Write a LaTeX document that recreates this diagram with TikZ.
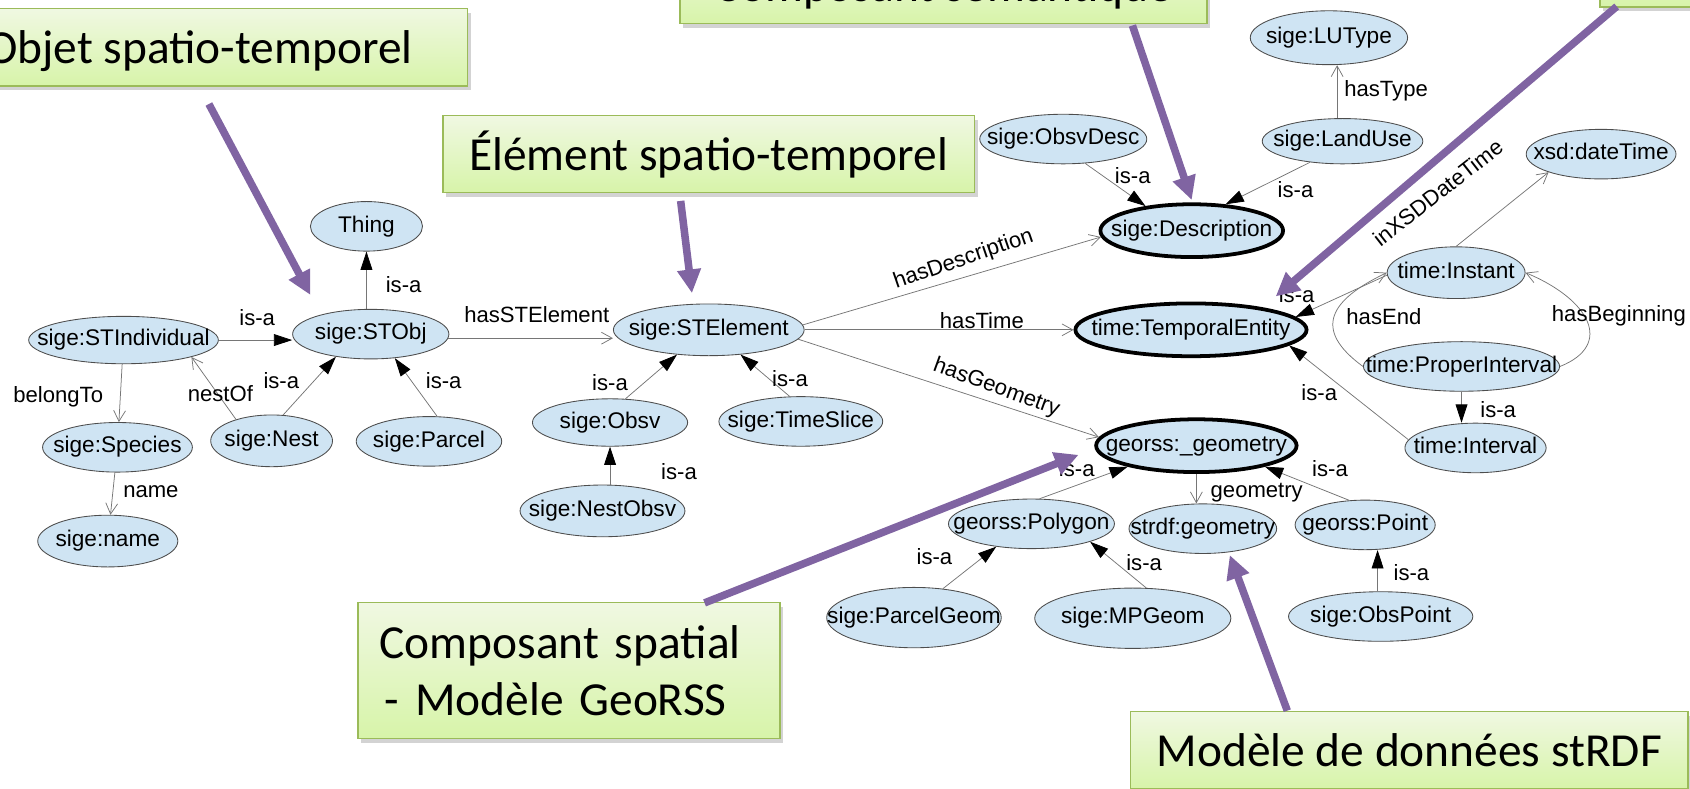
\documentclass[tikz,border=0pt]{standalone}
\usepackage{fontspec}
\setmainfont{Liberation Sans}
\newfontfamily\notefont{Carlito}
\usetikzlibrary{arrows.meta,positioning,shapes.geometric,shadows}
\definecolor{conceptfill}{HTML}{CFE4F3}
\definecolor{conceptline}{HTML}{4D4D4D}
\definecolor{edgegray}{HTML}{767676}
\definecolor{noteline}{HTML}{9BBB59}
\definecolor{notetop}{HTML}{F0F8E2}
\definecolor{notebottom}{HTML}{D7F4A9}
\definecolor{pointerpurple}{HTML}{8064A2}
\newcommand{\ctxt}[1]{\makebox[0pt]{#1}}
\tikzset{
  concept/.style={
    ellipse, draw=conceptline, fill=conceptfill, line width=0.8pt,
    minimum width=#1, minimum height=46pt, inner sep=0pt,
    text height=15pt, text depth=4.5pt,
    font=\fontsize{21}{25}\selectfont
  },
  concept/.default=140pt,
  keyconcept/.style={
    concept=#1, draw=black, line width=3.5pt, minimum height=49pt
  },
  isa/.style={
    draw=edgegray, line width=0.7pt,
    -{Triangle[length=17pt, width=11pt, color=black]}
  },
  prop/.style={
    draw=edgegray, line width=0.7pt,
    -{Straight Barb[length=10pt, width=11pt]}
  },
  edgelabel/.style={
    font=\fontsize{20.5}{24}\selectfont, inner sep=0pt
  },
  notebox/.style={
    rectangle, draw=noteline, line width=1.3pt,
    top color=notetop, bottom color=notebottom,
    drop shadow={opacity=0.35, shadow xshift=3pt, shadow yshift=-4pt},
    font=\notefont\fontsize{44}{52.6}\selectfont,
    text height=34pt, text depth=4pt, inner sep=0pt
  },
  pointer/.style={
    draw=pointerpurple, line width=7pt,
    -{Triangle[length=22pt, width=21pt]}
  },
}

\begin{document}
\begin{tikzpicture}[x=1pt, y=-1pt]
  \useasboundingbox (0,0) rectangle (1568,732);
  \clip (0,0) rectangle (1568,732);

  % spatio-temporal objects
  \node[concept=104pt] (thing) at (340,210) {\ctxt{Thing}};
  \node[concept=176pt, minimum height=44pt] (stind) at (114.6,315.5) {\ctxt{sige:STIndividual}};
  \node[concept=145pt] (stobj) at (344,310) {\ctxt{sige:STObj}};
  \node[concept=139pt] (species) at (109,415) {\ctxt{sige:Species}};
  \node[concept=113pt, minimum height=48pt] (nest) at (252,409) {\ctxt{sige:Nest}};
  \node[concept=135pt] (parcel) at (398,409.5) {\ctxt{sige:Parcel}};
  \node[concept=130pt, minimum height=48pt] (sname) at (100,502) {\ctxt{sige:name}};

  % spatio-temporal elements
  \node[concept=177pt, minimum height=48pt] (stelem) at (657.6,306) {\ctxt{sige:STElement}};
  \node[concept=144pt, minimum height=44pt] (obsv) at (566,392) {\ctxt{sige:Obsv}};
  \node[concept=152pt] (timeslice) at (743,391) {\ctxt{sige:TimeSlice}};
  \node[concept=153pt, minimum height=48pt] (nestobsv) at (559,474) {\ctxt{sige:NestObsv}};

  % semantic part
  \node[concept=155pt] (obsvdesc) at (986.5,129) {\ctxt{sige:ObsvDesc}};
  \node[concept=146pt, minimum height=50pt] (lutype) at (1233,35) {\ctxt{sige:LUType}};
  \node[concept=149pt, minimum height=42pt] (landuse) at (1245.6,131) {\ctxt{sige:LandUse}};
  \node[keyconcept=169.5pt] (descr) at (1105.7,214) {\ctxt{sige:Description}};

  % temporal part
  \node[concept=139pt] (datetime) at (1485.5,143) {\ctxt{xsd:dateTime}};
  \node[concept=128pt, minimum height=48pt] (instant) at (1351,253) {\ctxt{time:Instant}};
  \node[keyconcept=214.5pt] (tempent) at (1105,306) {\ctxt{time:TemporalEntity}};
  \node[concept=182pt] (properint) at (1356,340) {\ctxt{time:ProperInterval}};
  \node[concept=131pt] (interval) at (1369,415.6) {\ctxt{time:Interval}};

  % spatial part
  \node[keyconcept=186pt] (geom) at (1110,413.5) {\ctxt{georss:\_geometry}};
  \node[concept=154pt] (polygon) at (957,486) {\ctxt{georss:Polygon}};
  \node[concept=137pt] (strdfgeom) at (1116,490.5) {\ctxt{strdf:geometry}};
  \node[concept=130pt] (point) at (1266.6,487) {\ctxt{georss:Point}};
  \node[concept=162pt, minimum height=56pt] (parcelgeom) at (848,573) {\ctxt{sige:ParcelGeom}};
  \node[concept=182pt, minimum height=56pt] (mpgeom) at (1051,573.6) {\ctxt{sige:MPGeom}};
  \node[concept=171pt] (obspoint) at (1281,572) {\ctxt{sige:ObsPoint}};

  % links around sige:STObj
  \draw[isa] (stobj.north -| thing.south) -- (thing.south);
  \node[edgelabel] (isa-thing) at (374.5,263.7) {is-a};
  \draw[isa] (stind.east) -- (stind.east -| stobj.west);
  \node[edgelabel] (isa-stind) at (238.6,294.6) {is-a};
  \draw[prop] (stind) -- (species);
  \node[edgelabel] (lbl-belong) at (54,368) {belongTo};
  \draw[prop] (species) -- (sname);
  \node[edgelabel] (lbl-name) at (140,456) {name};
  \draw[prop] (nest.149) -- (stind.-14);
  \node[edgelabel] (lbl-nestof) at (204.5,365) {nestOf};
  \draw[isa] (nest.66) -- (stobj.213);
  \node[edgelabel] (isa-nest) at (261,353) {is-a};
  \draw[isa] (parcel.72) -- (stobj.-45);
  \node[edgelabel] (isa-parcel) at (411.7,353) {is-a};
  \draw[prop] (stobj.-3) -- (stobj.-3 -| stelem.west);
  \node[edgelabel] (lbl-haselem) at (498,291.5) {hasSTElement};

  % links around sige:STElement
  \draw[isa] (obsv.57) -- (stelem.218);
  \node[edgelabel] (isa-obsv) at (566,355) {is-a};
  \draw[isa] (timeslice.114) -- (stelem.-38);
  \node[edgelabel] (isa-timeslice) at (733,351) {is-a};
  \draw[isa] (nestobsv.north -| obsv.south) -- (obsv.south);
  \node[edgelabel] (isa-nestobsv) at (630,438) {is-a};
  \draw[prop] (stelem.3) -- (descr.184);
  \node[edgelabel, rotate=19] (lbl-hasdesc) at (894,241) {hasDescription};
  \draw[prop] (stelem.east) -- (tempent.west);
  \node[edgelabel] (lbl-hastime) at (911,297) {hasTime};
  \draw[prop] (stelem.-6) -- (geom.175);
  \node[edgelabel, rotate=-20] (lbl-hasgeom) at (924.4,360) {hasGeometry};

  % description
  \draw[isa] (obsvdesc.-48) -- (descr.152);
  \node[edgelabel] (isa-obsvdesc) at (1051,163) {is-a};
  \draw[isa] (landuse.213) -- (descr.38);
  \node[edgelabel] (isa-landuse) at (1202,176) {is-a};
  \draw[prop] ([xshift=-5pt]landuse.north) -- ([xshift=-5pt]landuse.north |- lutype.south);
  \node[edgelabel] (lbl-hastype) at (1286,84) {hasType};

  % time
  \draw[prop] (instant.north) -- (datetime.199);
  \node[edgelabel, rotate=38] (lbl-inxsd) at (1334,178.5) {inXSDDateTime};
  \draw[isa] (instant.182) -- (tempent.7);
  \node[edgelabel] (isa-instant) at (1203,273.5) {is-a};
  \draw[prop] (properint.west) .. controls +(-48,-35) and +(-52,25) .. (instant.west);
  \node[edgelabel] (lbl-hasend) at (1284,294) {hasEnd};
  \draw[prop] (properint.east) .. controls +(50,-20) and +(60,25) .. (instant.east);
  \node[edgelabel] (lbl-hasbegin) at (1502,293) {hasBeginning};
  \draw[isa] (properint.south) -- (properint.south |- interval.north);
  \node[edgelabel] (isa-properint) at (1390,380) {is-a};
  \draw[isa] (interval.173) -- (tempent.-9);
  \node[edgelabel] (isa-interval) at (1224,364) {is-a};

  % geometry
  \draw[prop] (geom.south) -- (geom.south |- strdfgeom.north);
  \node[edgelabel] (lbl-geometry) at (1166,457) {geometry};
  \draw[isa] (polygon.72) -- (geom.197);
  \node[edgelabel] (isa-polygon) at (999,435) {is-a};
  \draw[isa] (point.123) -- (geom.-17);
  \node[edgelabel] (isa-point) at (1234,434.5) {is-a};
  \draw[isa] (parcelgeom.45) -- (polygon.213);
  \node[edgelabel] (isa-parcelgeom) at (867,516) {is-a};
  \draw[isa] (mpgeom.66) -- (polygon.-17);
  \node[edgelabel] (isa-mpgeom) at (1061.5,522) {is-a};
  \draw[isa] (obspoint.97) -- (obspoint.97 |- point.south);
  \node[edgelabel] (isa-obspoint) at (1309.5,531) {is-a};

  % call-outs
  \node[notebox, minimum width=498pt, minimum height=72pt] (objet) at (185,43.75) {Objet spatio-temporel};
  \node[notebox, minimum width=493pt, minimum height=71.5pt] (element) at (657.5,143) {Élément spatio-temporel};
  \node[notebox, minimum width=489pt, minimum height=72pt] (semantique) at (875.5,-14) {Composant sémantique};
  \node[notebox, minimum width=200pt, minimum height=72pt, anchor=south west] (temporel) at (1484,7) {};
  \node[notebox, text height=, text depth=, text width=351.7pt, align=left, inner xsep=20pt,
        minimum height=126pt] (spatial) at (527.9,622) {Composant spatial\\\hspace*{5pt}- Modèle GeoRSS};
  \node[notebox, minimum width=517pt, minimum height=72pt] (strdf) at (1307.5,696) {Modèle de données stRDF};

  \coordinate (objet-tip) at (288,273.7);
  \coordinate (element-tip) at (642,272);
  \coordinate (semantique-tip) at (1105.7,185.6);
  \coordinate (temporel-tip) at (1183.6,275);
  \coordinate (spatial-tip) at (1000.7,422);
  \coordinate (strdf-tip) at (1141,515);
  \draw[pointer] ([shift={(8.8,16.1)}]objet.south) -- (objet-tip);
  \draw[pointer] ([shift={(-26,7)}]element.south) -- (element-tip);
  \draw[pointer] ([shift={(-70,1)}]semantique.south east) -- (semantique-tip);
  \draw[pointer] ([shift={(16,-1)}]temporel.south west) -- (temporel-tip);
  \draw[pointer] ([shift={(-70.7,1)}]spatial.north east) -- (spatial-tip);
  \draw[pointer] ([shift={(146,0)}]strdf.north west) -- (strdf-tip);
\end{tikzpicture}
\end{document}
